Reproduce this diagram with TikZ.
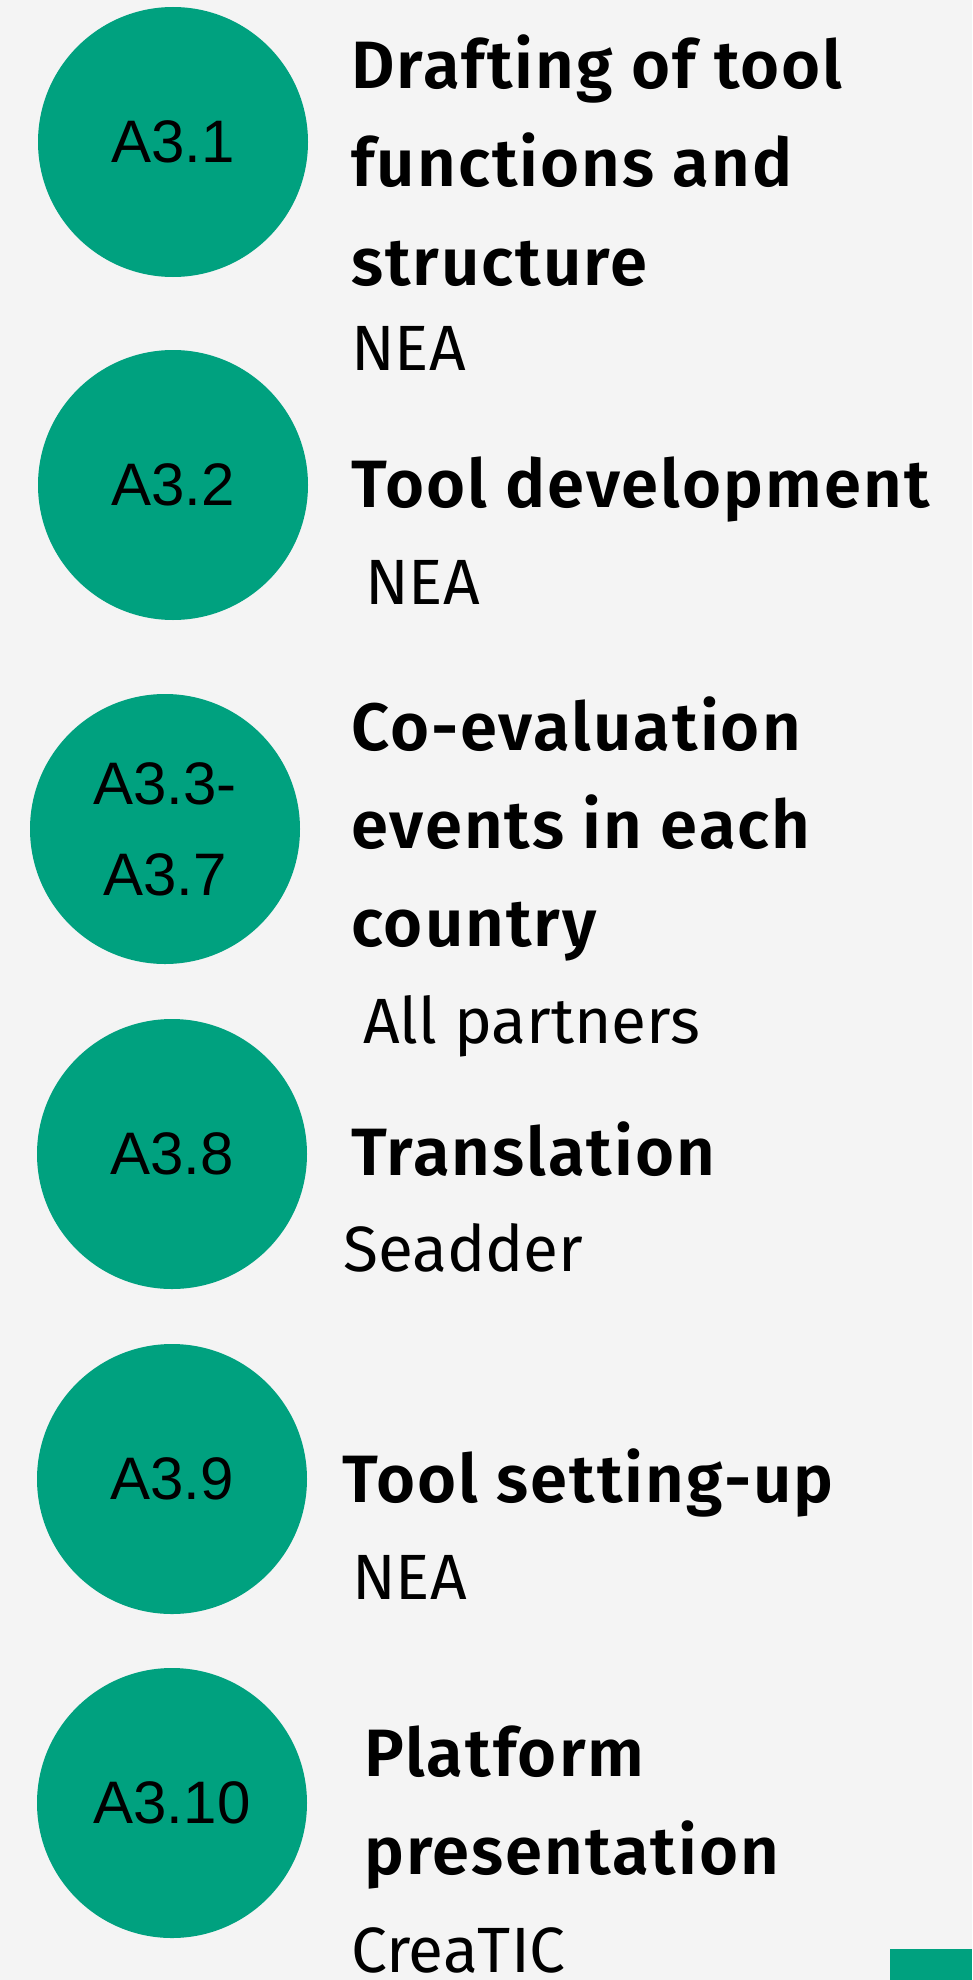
\documentclass[tikz,border=0pt]{standalone}
\usepackage{fontspec}
\setmainfont{Fira Sans}
\newfontfamily\labfont{Liberation Sans}
\newfontfamily\ttlfont{Fira Sans SemiBold}[LetterSpace=3]
\usetikzlibrary{backgrounds}
\definecolor{bgc}{RGB}{244,244,244}
\definecolor{grn}{RGB}{0,161,127}
\definecolor{dark}{RGB}{8,72,82}
\tikzset{
  stepcirc/.style={circle, fill=grn, minimum size=270pt, inner sep=0pt, align=center,
    font=\labfont\fontsize{60}{91}\selectfont, text=black},
  ttl/.style={anchor=base west, inner sep=0pt, font=\ttlfont\fontsize{67}{98}\selectfont, text=black},
  sub/.style={anchor=base west, inner sep=0pt, font=\fontsize{64}{80}\selectfont, text=black},
  conn/.style={draw=dark, line width=16pt}
}
\begin{document}
\begin{tikzpicture}[x=1pt,y=-1pt]
\fill[bgc] (0,0) rectangle (972,1980);
\useasboundingbox (0,0) rectangle (972,1980);
% circles
\node[stepcirc] (c1) at (173,142) {A3.1};
\node[stepcirc] (c2) at (173,485) {A3.2};
\node[stepcirc] (c3) at (165,829) {A3.3-\\A3.7};
\node[stepcirc] (c4) at (172,1154) {A3.8};
\node[stepcirc] (c5) at (172,1479) {A3.9};
\node[stepcirc] (c6) at (172,1803) {A3.10};
\coordinate (bot) at (173,1980);
\begin{scope}[on background layer]
\draw[conn] (c1.center) -- (c2.center);
\draw[conn] (c2.center) -- (c2.center |- c3.center);
\draw[conn] (c2.center |- c3.center) -- (c4.center);
\draw[conn] (c4.center) -- (c5.center);
\draw[conn] (c5.center) -- (c6.center);
\draw[conn] (c6.center) -- (bot);
\end{scope}
% texts
\node[ttl] (t1a) at (351,89) {Drafting of tool};
\node[ttl] (t1b) at (351,187) {functions and};
\node[ttl] (t1c) at (351,285) {structure};
\node[sub] (s1) at (351,370) {NEA};
\node[ttl] (t2) at (351,507) {Tool development};
\node[sub] (s2) at (365,604) {NEA};
\node[ttl] (t3a) at (351,750) {Co-evaluation};
\node[ttl] (t3b) at (351,848) {events in each};
\node[ttl] (t3c) at (351,946) {country};
\node[sub] (s3) at (363,1043) {All partners};
\node[ttl] (t4) at (351,1175) {Translation};
\node[sub] (s4) at (343,1271) {Seadder};
\node[ttl] (t5) at (342,1502) {Tool setting-up};
\node[sub] (s5) at (352,1599) {NEA};
\node[ttl] (t6a) at (364,1776) {Platform};
\node[ttl] (t6b) at (364,1874) {presentation};
\node[sub] (s6) at (351,1972) {CreaTIC};
\fill[grn] (890,1949) rectangle (972,1980);
\end{tikzpicture}
\end{document}
